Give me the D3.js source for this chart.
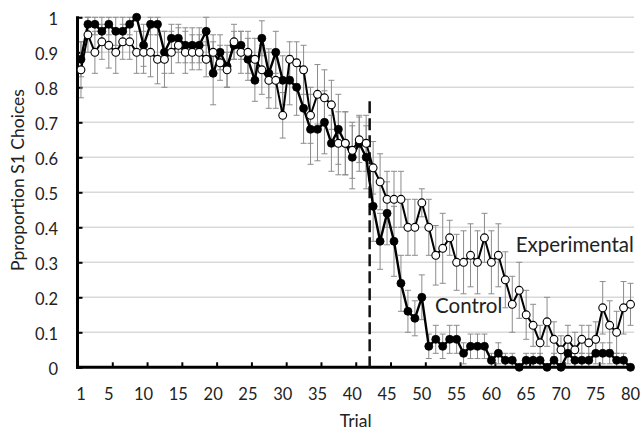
<!DOCTYPE html>
<html>
<head>
<meta charset="utf-8">
<script src="https://cdn.jsdelivr.net/npm/d3@7"></script>
<style>
  html, body { margin: 0; padding: 0; background: #fff; }
  svg { display: block; font-family: Lato, "Open Sans", sans-serif; }
</style>
</head>
<body>
<svg id="chart" width="644" height="434"></svg>
<script>
// Trials (categories) and per-trial proportions with their error bars
const trials = d3.range(1, 81);

const controlMeans = [
  0.88, 0.98, 0.98, 0.96, 0.98, 0.96, 0.96, 0.98, 1.00, 0.92,
  0.98, 0.98, 0.90, 0.94, 0.94, 0.92, 0.92, 0.92, 0.96, 0.84,
  0.90, 0.86, 0.92, 0.92, 0.88, 0.82, 0.94, 0.84, 0.90, 0.82,
  0.82, 0.80, 0.74, 0.68, 0.68, 0.70, 0.64, 0.68, 0.64, 0.60,
  0.64, 0.60, 0.46, 0.36, 0.44, 0.36, 0.24, 0.16, 0.14, 0.20,
  0.06, 0.08, 0.06, 0.08, 0.08, 0.04, 0.06, 0.06, 0.06, 0.02,
  0.04, 0.02, 0.02, 0.00, 0.02, 0.02, 0.02, 0.00, 0.02, 0.00,
  0.04, 0.02, 0.02, 0.02, 0.04, 0.04, 0.04, 0.02, 0.02, 0.00
];
const controlErr = [
  0.05, 0.03, 0.03, 0.04, 0.03, 0.04, 0.04, 0.03, 0.00, 0.06,
  0.03, 0.03, 0.06, 0.04, 0.04, 0.05, 0.05, 0.05, 0.04, 0.09,
  0.05, 0.06, 0.04, 0.04, 0.06, 0.06, 0.05, 0.07, 0.06, 0.07,
  0.07, 0.08, 0.10, 0.10, 0.09, 0.09, 0.08, 0.10, 0.09, 0.09,
  0.08, 0.09, 0.10, 0.08, 0.09, 0.10, 0.08, 0.06, 0.05, 0.064,
  0.035, 0.04, 0.035, 0.04, 0.04, 0.03, 0.035, 0.035, 0.035, 0.02,
  0.03, 0.02, 0.02, 0.00, 0.02, 0.02, 0.02, 0.00, 0.02, 0.00,
  0.03, 0.02, 0.02, 0.02, 0.03, 0.03, 0.03, 0.02, 0.02, 0.00
];

const experimentalMeans = [
  0.85, 0.95, 0.90, 0.93, 0.92, 0.90, 0.93, 0.93, 0.90, 0.90,
  0.90, 0.88, 0.88, 0.90, 0.92, 0.90, 0.90, 0.90, 0.88, 0.90,
  0.87, 0.85, 0.93, 0.90, 0.90, 0.88, 0.85, 0.82, 0.82, 0.72,
  0.88, 0.87, 0.85, 0.72, 0.78, 0.77, 0.75, 0.64, 0.64, 0.62,
  0.65, 0.64, 0.57, 0.53, 0.48, 0.48, 0.48, 0.40, 0.40, 0.47,
  0.40, 0.32, 0.34, 0.37, 0.30, 0.30, 0.32, 0.30, 0.37, 0.30,
  0.32, 0.25, 0.18, 0.22, 0.15, 0.12, 0.07, 0.13, 0.08, 0.05,
  0.08, 0.05, 0.08, 0.07, 0.08, 0.17, 0.12, 0.10, 0.17, 0.18
];
const experimentalErr = [
  0.08, 0.05, 0.06, 0.05, 0.065, 0.06, 0.05, 0.05, 0.06, 0.06,
  0.07, 0.07, 0.08, 0.06, 0.05, 0.06, 0.05, 0.05, 0.05, 0.05,
  0.05, 0.05, 0.05, 0.06, 0.06, 0.06, 0.07, 0.08, 0.08, 0.065,
  0.05, 0.06, 0.07, 0.08, 0.085, 0.08, 0.07, 0.09, 0.09, 0.08,
  0.065, 0.08, 0.075, 0.08, 0.08, 0.08, 0.08, 0.08, 0.08, 0.04,
  0.08, 0.085, 0.10, 0.05, 0.08, 0.09, 0.09, 0.09, 0.07, 0.09,
  0.09, 0.08, 0.08, 0.08, 0.07, 0.06, 0.05, 0.07, 0.05, 0.04,
  0.04, 0.05, 0.04, 0.05, 0.05, 0.075, 0.07, 0.06, 0.075, 0.06
];

const yTicks = [0, 0.1, 0.2, 0.3, 0.4, 0.5, 0.6, 0.7, 0.8, 0.9, 1];
const xTickLabels = [1, 5, 10, 15, 20, 25, 30, 35, 40, 45, 50, 55, 60, 65, 70, 75, 80];
const xTickMarks = [5.5, 10.5, 15.5, 20.5, 25.5, 30.5, 35.5, 40.5, 45.5, 50.5, 55.5, 60.5, 65.5, 70.5, 75.5];
const shiftTrial = 42.5;      // contingency change between trials 42 and 43
const shiftLineTop = 0.76;

const seriesLabels = [
  { text: "Experimental", trial: 63.5, value: 0.345 },
  { text: "Control", trial: 51.9, value: 0.17 }
];

const svg = d3.select("#chart");

const x = d3.scaleLinear().domain([0.5, 80.5]).range([77.5, 634]);
const y = d3.scaleLinear().domain([0, 1]).range([367.3, 17.3]);

const control = trials.map((t, i) => ({ t, v: controlMeans[i], e: controlErr[i] }));
const experimental = trials.map((t, i) => ({ t, v: experimentalMeans[i], e: experimentalErr[i] }));

// horizontal gridlines
svg.append("g")
  .selectAll("line")
  .data(yTicks.filter(d => d > 0))
  .join("line")
  .attr("x1", x(0.5)).attr("x2", x(80.5))
  .attr("y1", d => y(d)).attr("y2", d => y(d))
  .attr("stroke", "#d9d9d9").attr("stroke-width", 1.6);

// y axis: short ticks pointing into the plot
const yAxis = svg.append("g")
  .attr("transform", `translate(${x(0.5)},0)`)
  .call(d3.axisRight(y).tickValues(yTicks).tickSize(5).tickFormat(""));
yAxis.select(".domain").remove();
yAxis.selectAll(".tick line").attr("stroke", "#000").attr("stroke-width", 2);

svg.append("g")
  .selectAll("text")
  .data(yTicks)
  .join("text")
  .attr("x", 58)
  .attr("y", d => y(d) + 4)
  .attr("text-anchor", "end")
  .attr("dominant-baseline", "middle")
  .attr("font-size", 16.5)
  .attr("fill", "#222")
  .text(d => d3.format("~g")(d));

// x axis: labels centred on trials, tick marks at every fifth category boundary
const xAxis = svg.append("g")
  .attr("transform", `translate(0,${y(0)})`)
  .call(d3.axisTop(x).tickValues(xTickMarks).tickSize(5).tickFormat(""));
xAxis.select(".domain").remove();
xAxis.selectAll(".tick line").attr("stroke", "#000").attr("stroke-width", 2);

svg.append("g")
  .selectAll("text")
  .data(xTickLabels)
  .join("text")
  .attr("x", d => x(d))
  .attr("y", 396)
  .attr("text-anchor", "middle")
  .attr("dominant-baseline", "middle")
  .attr("font-size", 16.5)
  .attr("fill", "#222")
  .text(d => d);

// axis titles
svg.append("text")
  .attr("x", (x(0.5) + x(80.5)) / 2)
  .attr("y", 423)
  .attr("text-anchor", "middle")
  .attr("dominant-baseline", "middle")
  .attr("font-size", 17.5)
  .attr("fill", "#222")
  .text("Trial");

svg.append("text")
  .attr("transform", "translate(20,180) rotate(-90)")
  .attr("text-anchor", "middle")
  .attr("dominant-baseline", "middle")
  .attr("font-size", 17.5)
  .attr("fill", "#222")
  .text("Pproportion S1 Choices");

// error bars with caps
function errorBars(data) {
  const g = svg.append("g").attr("stroke", "#8c8c8c").attr("stroke-width", 1);
  const withErr = data.filter(d => d.e > 0);
  const lo = d => y(Math.max(0, d.v - d.e));
  const hi = d => y(Math.min(1, d.v + d.e));
  g.selectAll("line.bar").data(withErr).join("line").attr("class", "bar")
    .attr("x1", d => x(d.t)).attr("x2", d => x(d.t))
    .attr("y1", lo).attr("y2", hi);
  g.selectAll("line.capLo").data(withErr).join("line").attr("class", "capLo")
    .attr("x1", d => x(d.t) - 3).attr("x2", d => x(d.t) + 3)
    .attr("y1", lo).attr("y2", lo);
  g.selectAll("line.capHi").data(withErr).join("line").attr("class", "capHi")
    .attr("x1", d => x(d.t) - 3).attr("x2", d => x(d.t) + 3)
    .attr("y1", hi).attr("y2", hi);
}
errorBars(control);
errorBars(experimental);

// axis lines
svg.append("line")
  .attr("x1", x(0.5)).attr("x2", x(0.5))
  .attr("y1", y(1) - 1).attr("y2", y(0) + 1.5)
  .attr("stroke", "#000").attr("stroke-width", 3);
svg.append("line")
  .attr("x1", x(0.5) - 1.5).attr("x2", x(80.5))
  .attr("y1", y(0)).attr("y2", y(0))
  .attr("stroke", "#000").attr("stroke-width", 3);

// dashed line marking the change of contingency
svg.append("line")
  .attr("x1", x(shiftTrial)).attr("x2", x(shiftTrial))
  .attr("y1", y(shiftLineTop)).attr("y2", y(0))
  .attr("stroke", "#111").attr("stroke-width", 2.5)
  .attr("stroke-dasharray", "12,5");

const line = d3.line().x(d => x(d.t)).y(d => y(d.v));

// control series: filled markers
svg.append("path").datum(control)
  .attr("d", line).attr("fill", "none")
  .attr("stroke", "#000").attr("stroke-width", 2.4).attr("stroke-linejoin", "round");
svg.append("g").selectAll("circle").data(control).join("circle")
  .attr("cx", d => x(d.t)).attr("cy", d => y(d.v)).attr("r", 4)
  .attr("fill", "#000").attr("stroke", "#000").attr("stroke-width", 0.8);

// experimental series: open markers
svg.append("path").datum(experimental)
  .attr("d", line).attr("fill", "none")
  .attr("stroke", "#000").attr("stroke-width", 2).attr("stroke-linejoin", "round");
svg.append("g").selectAll("circle").data(experimental).join("circle")
  .attr("cx", d => x(d.t)).attr("cy", d => y(d.v)).attr("r", 3.9)
  .attr("fill", "#fff").attr("stroke", "#000").attr("stroke-width", 1.1);

// series labels
svg.append("g").selectAll("text").data(seriesLabels).join("text")
  .attr("x", d => x(d.trial))
  .attr("y", d => y(d.value))
  .attr("dominant-baseline", "middle")
  .attr("font-size", 20.5)
  .attr("fill", "#222")
  .text(d => d.text);
</script>
</body>
</html>
